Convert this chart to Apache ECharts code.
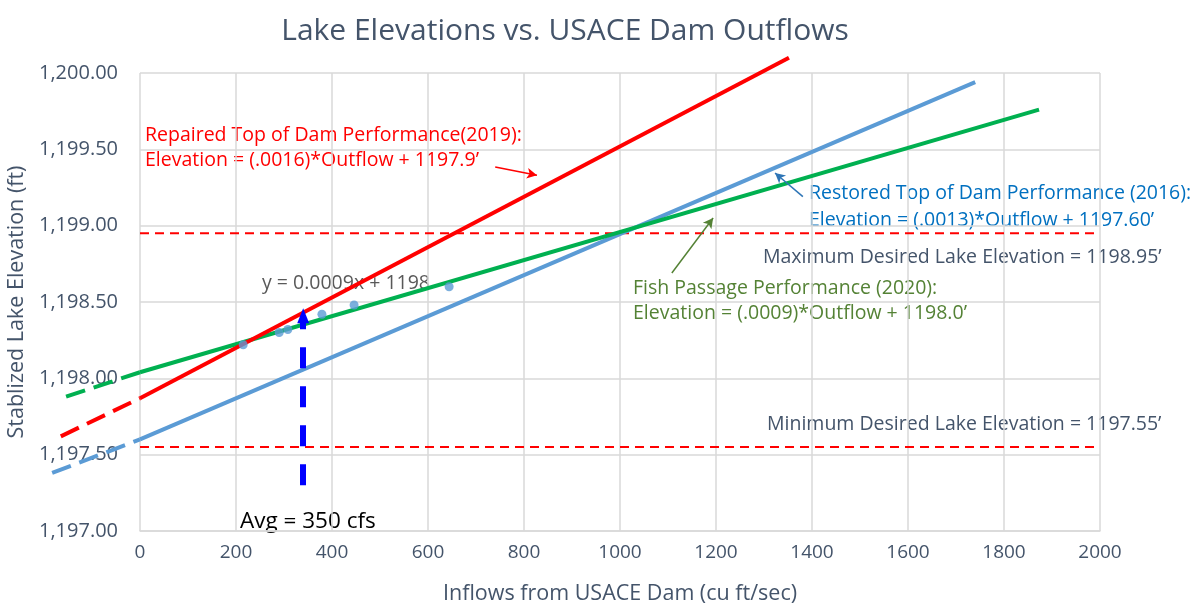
<!DOCTYPE html>
<html>
<head>
<meta charset="utf-8">
<script src="https://cdn.jsdelivr.net/npm/echarts@6/dist/echarts.min.js"></script>
<style>
  html, body { margin: 0; padding: 0; background: #fff; }
  #chart { width: 1201px; height: 605px; }
</style>
</head>
<body>
<div id="chart"></div>
<script>
// observed points (outflow cfs, elevation ft)
var obsFlow = [215, 290, 308, 379, 446, 644];
var obsElev = [1198.22, 1198.30, 1198.32, 1198.42, 1198.48, 1198.60];

// performance lines: [start, end] endpoints
var repairedSolid = [[0, 1197.87], [1352, 1200.10]];
var repairedDash = [[-165, 1197.62], [0, 1197.87]];
var restoredSolid = [[0, 1197.60], [1740, 1199.94]];
var restoredDash = [[-183, 1197.38], [0, 1197.60]];
var fishSolid = [[0, 1198.04], [1873, 1199.76]];
var fishDash = [[-154, 1197.88], [0, 1198.04]];

var maxElev = 1198.95;
var minElev = 1197.55;
var avgFlow = 340;
var avgRange = [1197.30, 1198.41];

var xTicks = [0, 2000, 200];
var yTicks = [1197, 1200, 0.5];
var xOverlayMin = -250;

var font = "'Open Sans', sans-serif";

var chart = echarts.init(document.getElementById('chart'));

function arrow(from, to, color) {
    return [{ coord: from, lineStyle: { color: color, width: 1.5, type: 'solid' } }, { coord: to }];
}

function ext(data, color) {
    return {
        type: 'line', data: data, symbol: 'none', xAxisIndex: 1, yAxisIndex: 1, silent: true,
        lineStyle: { color: color, width: 4, type: [20, 9] }, z: 3
    };
}

var hiddenAxis = { show: false, axisLine: { show: false }, splitLine: { show: false }, axisLabel: { show: false }, axisTick: { show: false } };

var option = {
    backgroundColor: '#fff',
    animation: false,
    title: {
        text: 'Lake Elevations vs. USACE Dam Outflows',
        left: 560, top: 11, textAlign: 'center',
        textStyle: { fontFamily: font, fontSize: 30, fontWeight: 'normal', color: '#44546A' }
    },
    grid: [
        { left: 140, right: 101, top: 73, bottom: 74, outerBoundsMode: 'none', containLabel: false },
        { left: 140 + xOverlayMin * 0.48, right: 101, top: 73, bottom: 74, outerBoundsMode: 'none', containLabel: false }
    ],
    xAxis: [{
        type: 'value', min: xTicks[0], max: xTicks[1], interval: xTicks[2],
        name: 'Inflows from USACE Dam (cu ft/sec)', nameLocation: 'middle', nameGap: 52,
        nameTextStyle: { fontFamily: font, fontSize: 21.5, color: '#44546A' },
        axisLine: { show: true, lineStyle: { color: '#D9D9D9', width: 1.5 } },
        axisTick: { show: false },
        axisLabel: { fontFamily: font, fontSize: 19, color: '#44546A', margin: 12, formatter: function (v) { return String(v); } },
        splitLine: { lineStyle: { color: '#D9D9D9', width: 1.5 } }
    }, Object.assign({ gridIndex: 1, type: 'value', min: xOverlayMin, max: xTicks[1] }, hiddenAxis)],
    yAxis: [{
        type: 'value', min: yTicks[0], max: yTicks[1], interval: yTicks[2],
        name: 'Stablized Lake Elevation (ft)', nameLocation: 'middle', nameGap: 107,
        nameTextStyle: { fontFamily: font, fontSize: 21.5, color: '#44546A' },
        axisLine: { show: false }, axisTick: { show: false },
        axisLabel: {
            fontFamily: font, fontSize: 20, color: '#44546A', margin: 22,
            formatter: function (v) { return v.toLocaleString('en-US', { minimumFractionDigits: 2, maximumFractionDigits: 2 }); }
        },
        splitLine: { lineStyle: { color: '#D9D9D9', width: 1.5 } }
    }, Object.assign({ gridIndex: 1, type: 'value', min: yTicks[0], max: yTicks[1] }, hiddenAxis)],
    series: [
        {
            type: 'line', data: [[0, maxElev], [2000, maxElev]], symbol: 'none', silent: true,
            lineStyle: { color: '#FF0000', width: 2, type: [9, 6] }
        },
        {
            type: 'line', data: [[0, minElev], [2000, minElev]], symbol: 'none', silent: true,
            lineStyle: { color: '#FF0000', width: 2, type: [9, 6] }
        },
        { type: 'line', data: restoredSolid, symbol: 'none', clip: false, lineStyle: { color: '#5B9BD5', width: 4 } },
        ext(restoredDash, '#5B9BD5'),
        { type: 'line', data: fishSolid, symbol: 'none', clip: false, lineStyle: { color: '#00B050', width: 4 } },
        ext(fishDash, '#00B050'),
        { type: 'line', data: repairedSolid, symbol: 'none', clip: false, lineStyle: { color: '#FF0000', width: 4 } },
        ext(repairedDash, '#FF0000'),
        {
            type: 'scatter', symbolSize: 9, itemStyle: { color: '#5B9BD5' }, z: 5,
            data: obsFlow.map(function (f, i) { return [f, obsElev[i]]; })
        },
        {
            type: 'line', data: [], silent: true,
            markLine: {
                silent: true, animation: false, label: { show: false },
                symbol: ['none', 'arrow'], symbolSize: [8, 10],
                data: [
                    arrow([740, 1199.384], [827, 1199.33], '#FF0000'),
                    arrow([1381, 1199.19], [1323, 1199.345], '#2E75B6'),
                    arrow([1108, 1198.69], [1194, 1199.05], '#548235'),
                    [
                        { coord: [avgFlow, avgRange[0]], symbol: 'none', lineStyle: { color: '#0000FF', width: 6, type: [21, 18] } },
                        { coord: [avgFlow, avgRange[1]], symbol: 'triangle', symbolSize: [12, 15] }
                    ]
                ]
            }
        }
    ],
    graphic: [
        { type: 'text', left: 145, top: 122.5, style: { text: 'Repaired Top of Dam Performance(2019):\nElevation = (.0016)*Outflow + 1197.9’', fill: '#FF0000', font: '19.5px ' + font, lineHeight: 25 } },
        { type: 'text', left: 809, top: 179.5, style: { text: 'Restored Top of Dam Performance (2016):\nElevation = (.0013)*Outflow + 1197.60’', fill: '#0070C0', font: '19.5px ' + font, lineHeight: 27 } },
        { type: 'text', left: 633, top: 275.5, style: { text: 'Fish Passage Performance (2020):\nElevation = (.0009)*Outflow + 1198.0’', fill: '#548235', font: '19.5px ' + font, lineHeight: 25 } },
        { type: 'text', left: 763, top: 244.5, style: { text: 'Maximum Desired Lake Elevation = 1198.95’', fill: '#44546A', font: '19.5px ' + font, lineHeight: 25 } },
        { type: 'text', left: 767, top: 411.5, style: { text: 'Minimum Desired Lake Elevation = 1197.55’', fill: '#44546A', font: '19.5px ' + font, lineHeight: 25 } },
        { type: 'text', left: 262, top: 270.5, style: { text: 'y = 0.0009x + 1198', fill: '#595959', font: '19.5px ' + font, lineHeight: 25 } },
        { type: 'text', left: 240, top: 508, style: { text: 'Avg = 350 cfs', fill: '#000000', font: '22.5px ' + font, lineHeight: 28 } }
    ]
};

chart.setOption(option);
</script>
</body>
</html>
